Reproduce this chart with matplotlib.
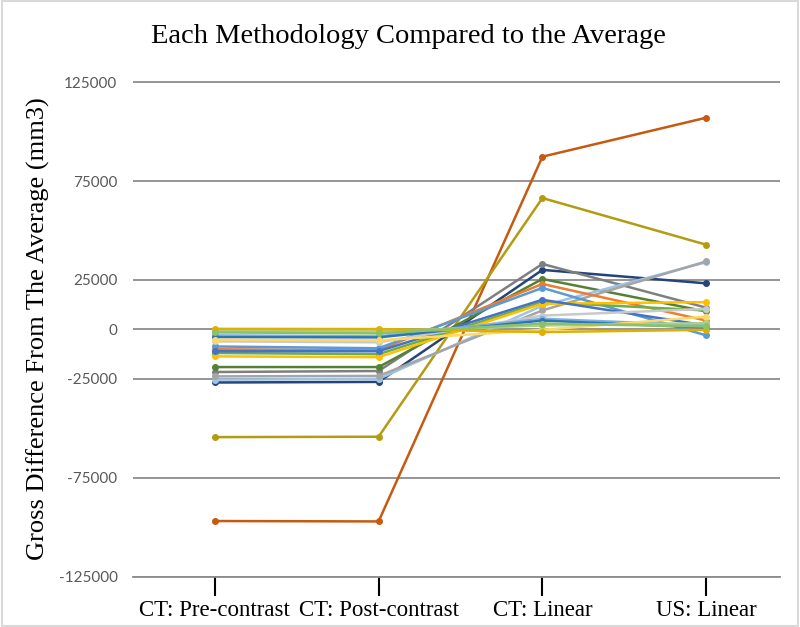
import numpy as np
import matplotlib.pyplot as plt
from matplotlib.patches import Rectangle

# categories on the x axis
categories = ['CT: Pre-contrast', 'CT: Post-contrast', 'CT: Linear', 'US: Linear']

# one row per case: values at the four methodologies
pre_contrast = [-96800, -54400, -26800, -21500, -19000, -25400, -23700, -10000, -8600,
                -11900, -13600, -11000, -6000, -3000, -3900, -5200, -800, 300, -1500]
post_contrast = [-97000, -54200, -26500, -21000, -19000, -25000, -23500, -10500, -9500,
                 -12500, -14000, -11000, -6500, -3500, -4000, -5500, -1000, 200, -2000]
ct_linear = [87300, 66400, 30100, 33100, 25500, 12000, 9600, 23000, 21000,
             13800, 13000, 15000, 7000, 5400, 4500, -200, 2000, -1300, 3000]
us_linear = [107000, 42800, 23300, 11000, 9100, 34000, 34400, 4500, -3000,
             9600, 13800, 2000, 10400, 2000, 900, 6500, 3200, -200, 1500]

colors = ['#C55A11', '#B39B12', '#264478', '#7F7F7F', '#548235', '#9DC3E6', '#A5A5A5',
          '#ED7D31', '#5B9BD5', '#70AD47', '#FFC000', '#4472C4', '#C9C9C9', '#7CAFDD',
          '#2E75B6', '#FFD966', '#A9D18E', '#E0B000', '#8CC168']

yticks = [125000, 75000, 25000, 0, -25000, -75000, -125000]

fig = plt.figure(figsize=(8, 6.27), dpi=100)
ax = fig.add_axes([0.166, 0.080, 0.809, 0.791])

x = np.arange(len(categories))
for i in range(len(pre_contrast)):
    vals = [pre_contrast[i], post_contrast[i], ct_linear[i], us_linear[i]]
    ax.plot(x, vals, color=colors[i], lw=1.8, marker='o', markersize=4, zorder=3)

ax.set_xlim(-0.5, 3.45)
ax.set_ylim(-125000, 125600)
ax.set_yticks(yticks)
ax.set_yticklabels([str(t) for t in yticks], family='Lato', fontsize=11, color='#595959')
ax.set_xticks(x)
ax.set_xticklabels(categories, family='Liberation Serif', fontsize=16.5)

ax.grid(axis='y', color='#8C8C8C', lw=1.3, zorder=0)
ax.set_axisbelow(True)
for s in ['top', 'right', 'left']:
    ax.spines[s].set_visible(False)
ax.spines['bottom'].set_color('#8C8C8C')
ax.spines['bottom'].set_linewidth(1.3)
ax.tick_params(axis='y', length=0, pad=11)
ax.tick_params(axis='x', direction='out', length=14, width=1.5, color='black', pad=3)

ax.set_ylabel('Gross Difference From The Average (mm3)', family='Liberation Serif',
              fontsize=19, labelpad=6)
fig.text(0.51, 0.941, 'Each Methodology Compared to the Average', ha='center',
         va='center', family='Liberation Serif', fontsize=20.5)

fig.patches.append(Rectangle((0.002, 0.002), 0.996, 0.996, transform=fig.transFigure,
                             fill=False, edgecolor='#D9D9D9', lw=1.5))

fig.savefig('out.png', dpi=100)
